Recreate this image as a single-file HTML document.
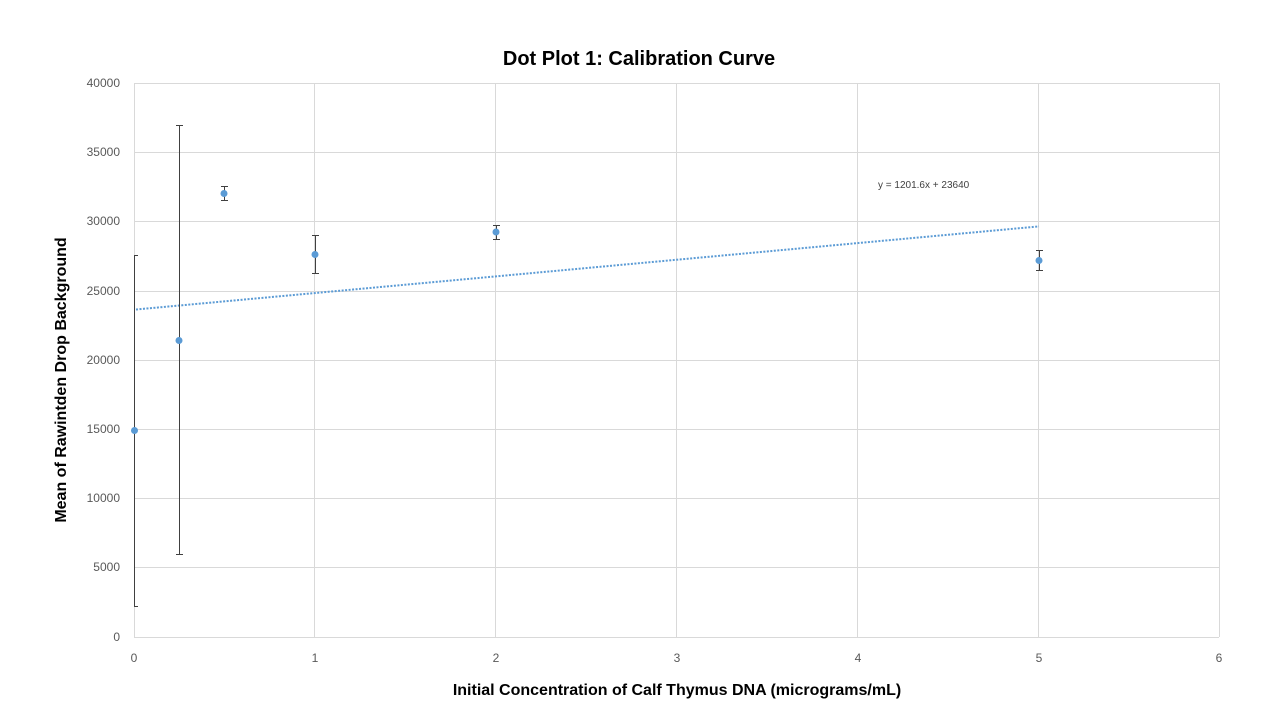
<!DOCTYPE html>
<html><head><meta charset="utf-8"><style>
body{margin:0;background:#fff;}
svg{display:block;font-family:"Liberation Sans",sans-serif;}
</style></head><body>
<svg width="1280" height="720" xmlns="http://www.w3.org/2000/svg">
<rect width="1280" height="720" fill="#fff"/>
<text x="639" y="65" text-anchor="middle" font-size="20" font-weight="bold" fill="#000">Dot Plot 1: Calibration Curve</text>
<g stroke="#d9d9d9" stroke-width="1">
<line x1="134" y1="83.5" x2="1219" y2="83.5"/>
<line x1="134" y1="152.5" x2="1219" y2="152.5"/>
<line x1="134" y1="221.5" x2="1219" y2="221.5"/>
<line x1="134" y1="291.5" x2="1219" y2="291.5"/>
<line x1="134" y1="360.5" x2="1219" y2="360.5"/>
<line x1="134" y1="429.5" x2="1219" y2="429.5"/>
<line x1="134" y1="498.5" x2="1219" y2="498.5"/>
<line x1="134" y1="567.5" x2="1219" y2="567.5"/>
<line x1="314.5" y1="83" x2="314.5" y2="637"/>
<line x1="495.5" y1="83" x2="495.5" y2="637"/>
<line x1="676.5" y1="83" x2="676.5" y2="637"/>
<line x1="857.5" y1="83" x2="857.5" y2="637"/>
<line x1="1038.5" y1="83" x2="1038.5" y2="637"/>
<line x1="1219.5" y1="83" x2="1219.5" y2="637"/>
<line x1="134" y1="637.5" x2="1219" y2="637.5"/>
<line x1="134.5" y1="83" x2="134.5" y2="637"/>
</g>
<g font-size="12" fill="#595959" text-anchor="end">
<text x="120" y="87">40000</text><text x="120" y="156">35000</text><text x="120" y="225">30000</text>
<text x="120" y="295">25000</text><text x="120" y="364">20000</text><text x="120" y="433">15000</text>
<text x="120" y="502">10000</text><text x="120" y="571">5000</text><text x="120" y="641">0</text>
</g>
<g font-size="12" fill="#595959" text-anchor="middle">
<text x="134" y="662">0</text><text x="315" y="662">1</text><text x="496" y="662">2</text>
<text x="677" y="662">3</text><text x="858" y="662">4</text><text x="1039" y="662">5</text><text x="1219" y="662">6</text>
</g>
<text x="677" y="695" text-anchor="middle" font-size="16" font-weight="bold" fill="#000">Initial Concentration of Calf Thymus DNA (micrograms/mL)</text>
<text transform="translate(66,380) rotate(-90)" text-anchor="middle" font-size="16" font-weight="bold" fill="#000">Mean of Rawintden Drop Background</text>
<line x1="136" y1="309.5" x2="1039" y2="226.4" stroke="#5b9bd5" stroke-width="2" stroke-dasharray="2,1.5"/>
<text x="878" y="188" font-size="10" fill="#404040">y = 1201.6x + 23640</text>
<g stroke="#404040" stroke-width="1">
<line x1="134.5" y1="255" x2="134.5" y2="607"/><line x1="134" y1="255.5" x2="138" y2="255.5"/><line x1="134" y1="606.5" x2="138" y2="606.5"/>
<line x1="179.5" y1="126" x2="179.5" y2="554"/><line x1="176" y1="125.5" x2="183" y2="125.5"/><line x1="176" y1="554.5" x2="183" y2="554.5"/>
<line x1="224.5" y1="186" x2="224.5" y2="200"/><line x1="221" y1="186.5" x2="228" y2="186.5"/><line x1="221" y1="200.5" x2="228" y2="200.5"/>
<line x1="315.5" y1="236" x2="315.5" y2="274"/><line x1="312" y1="235.5" x2="319" y2="235.5"/><line x1="312" y1="273.5" x2="319" y2="273.5"/>
<line x1="496.5" y1="226" x2="496.5" y2="240"/><line x1="493" y1="225.5" x2="500" y2="225.5"/><line x1="493" y1="239.5" x2="500" y2="239.5"/>
<line x1="1039.5" y1="250" x2="1039.5" y2="271"/><line x1="1036" y1="250.5" x2="1043" y2="250.5"/><line x1="1036" y1="270.5" x2="1043" y2="270.5"/>
</g>
<g fill="#5b9bd5">
<circle cx="134.5" cy="430.5" r="3.5"/><circle cx="179" cy="340.5" r="3.5"/><circle cx="224" cy="193.5" r="3.5"/>
<circle cx="315" cy="254.5" r="3.5"/><circle cx="496" cy="232" r="3.5"/><circle cx="1039" cy="260.5" r="3.5"/>
</g>
</svg>
</body></html>
